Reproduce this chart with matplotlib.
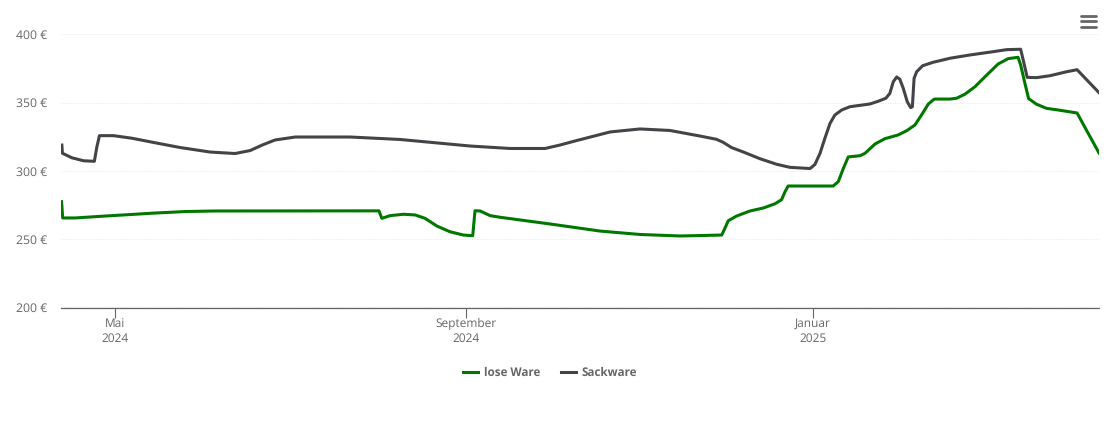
import matplotlib
matplotlib.use("Agg")
import matplotlib.pyplot as plt
from matplotlib.lines import Line2D

plt.rcParams['font.family'] = ['Open Sans', 'DejaVu Sans']
plt.rcParams['text.hinting'] = 'no_hinting'

# x values are days counted from 1 May 2024
lose_days = [-18.8, -18.4, -14, -3.5, 14, 24.6, 35, 89.5, 92.6, 93.6, 96.5, 101.2, 105.3, 108.8, 112.9,
             117.5, 122.2, 125.5, 126.3, 128.1, 131.6, 135.1, 152.6, 170.2, 184.2, 198.2, 205.3, 212.9,
             214, 215.2, 218.1, 222.8, 227.5, 231.6, 233.9, 235.1, 236.2, 252, 253.8, 255.5, 257.3,
             261.4, 263.2, 266.7, 270.2, 274.8, 277.8, 280.7, 283, 285.4, 287.5, 293, 295.3, 298.2,
             301.8, 305.9, 309.9, 313.4, 316.9, 317.8, 319.3, 320.6, 323.4, 326.9, 331.6, 337.6, 345.3]
lose_prices = [277.5, 265.6, 265.6, 267, 269.2, 270.3, 270.7, 270.8, 270.8, 265.3, 267.3, 268.3, 267.8, 265.3, 259.7,
               255.5, 253.1, 252.6, 270.9, 270.7, 267.3, 266.1, 261.2, 256, 253.5, 252.4, 252.7, 253.1,
               258, 263.6, 267, 270.7, 272.9, 276, 279, 284.8, 289, 289, 292.2, 301.5, 310.3,
               311.2, 313, 319.8, 323.7, 326.4, 329.5, 333.7, 341, 349.1, 352.7, 352.7, 353.3, 356.2,
               361.8, 370.3, 378.4, 382.3, 383.3, 377.7, 364.2, 353, 348.9, 345.9, 344.5, 342.5, 313.2]

sack_days = [-18.7, -18.5, -15.2, -11.1, -7.3, -6.4, -5.5, -0.6, 5.9, 14, 22.8, 33.3, 42.1, 47.4, 51.6,
             56.1, 63.2, 82.5, 100, 124.6, 138.6, 150.9, 156.1, 161.4, 173.7, 184.2, 194.7, 205.3, 211.1,
             213.4, 216.4, 220.5, 226.3, 232.2, 236.8, 243.9, 245.6, 247.4, 249.1, 250.9, 252.6, 255,
             257.9, 261.4, 264.9, 267.8, 270.5, 271.9, 273.1, 274.3, 275.4, 276.6, 278, 279.2, 279.8,
             280.4, 281.3, 283.4, 287, 293, 300, 308.1, 312.9, 317.8, 318.7, 320.1, 323.4, 328.1,
             333.9, 337.6, 345.3]
sack_prices = [319, 313, 309.7, 307.5, 307.1, 317.8, 325.9, 325.9, 324, 320.7, 317.2, 313.9, 312.8, 315, 319,
               322.7, 324.9, 324.9, 323.1, 318.3, 316.5, 316.5, 319, 322, 328.6, 330.8, 329.7, 325.6, 323.2,
               321, 317.1, 313.9, 309, 304.9, 302.7, 301.8, 304.8, 313, 324, 334.9, 341, 344.7,
               347.1, 348.1, 349.1, 351.1, 353.3, 356.9, 365.4, 368.9, 367.2, 360.6, 350.8, 346.4, 347.1,
               367.9, 372.7, 377.1, 379.6, 382.6, 385, 387.4, 388.9, 389.2, 381.3, 368.6, 368.4, 369.8,
               372.7, 374.2, 357.4]

tick_days = [0, 123, 245]
tick_labels = ["Mai\n2024", "September\n2024", "Januar\n2025"]
price_ticks = [200, 250, 300, 350, 400]

GREEN = "#007800"
DARK = "#434348"
TEXT = "#666666"
W, H = 1110, 422

fig = plt.figure(figsize=(W / 100, H / 100), dpi=100)
ax = fig.add_axes([61 / W, (H - 307.5) / H, (1099 - 61) / W, (307.5 - 10) / H])

l1, = ax.plot(lose_days, lose_prices, color=GREEN, lw=2.2, solid_joinstyle="round", label="lose Ware")
l2, = ax.plot(sack_days, sack_prices, color=DARK, lw=2.2, solid_joinstyle="round", label="Sackware")

ax.set_xlim(-19, 345.3)
ax.set_ylim(200, 200 + 297.5 / 1.365)

ax.set_yticks(price_ticks)
ax.set_yticklabels([f"{p} €" for p in price_ticks], fontsize=8.8, color=TEXT)
ax.tick_params(axis="y", length=0, pad=10.2)
ax.set_xticks(tick_days)
ax.set_xticklabels(tick_labels, fontsize=8.6, color=TEXT, linespacing=1.32)
ax.tick_params(axis="x", length=7, width=0.8, color=TEXT, pad=0.6)

ax.grid(axis="y", color="#e6e6e6", lw=0.7, linestyle=(0, (1, 1.5)))
ax.set_axisbelow(True)
for side in ["top", "left", "right"]:
    ax.spines[side].set_visible(False)
ax.spines["bottom"].set_color(TEXT)
ax.spines["bottom"].set_linewidth(0.9)

leg = fig.legend(handles=[l1, l2], loc="center", bbox_to_anchor=(550 / W, (H - 373) / H), ncol=2, frameon=False,
                 handlelength=1.29, handletextpad=0.5, columnspacing=1.8,
                 prop={"size": 8.4, "weight": "bold"})
for t in leg.get_texts():
    t.set_color(TEXT)

# menu icon top right
for y in [16, 21.3, 26.7]:
    fig.add_artist(Line2D([1081 / W, 1095.5 / W], [(H - y) / H] * 2, color=TEXT, lw=2.0, solid_capstyle="round"))

fig.savefig("out.png", dpi=100)
